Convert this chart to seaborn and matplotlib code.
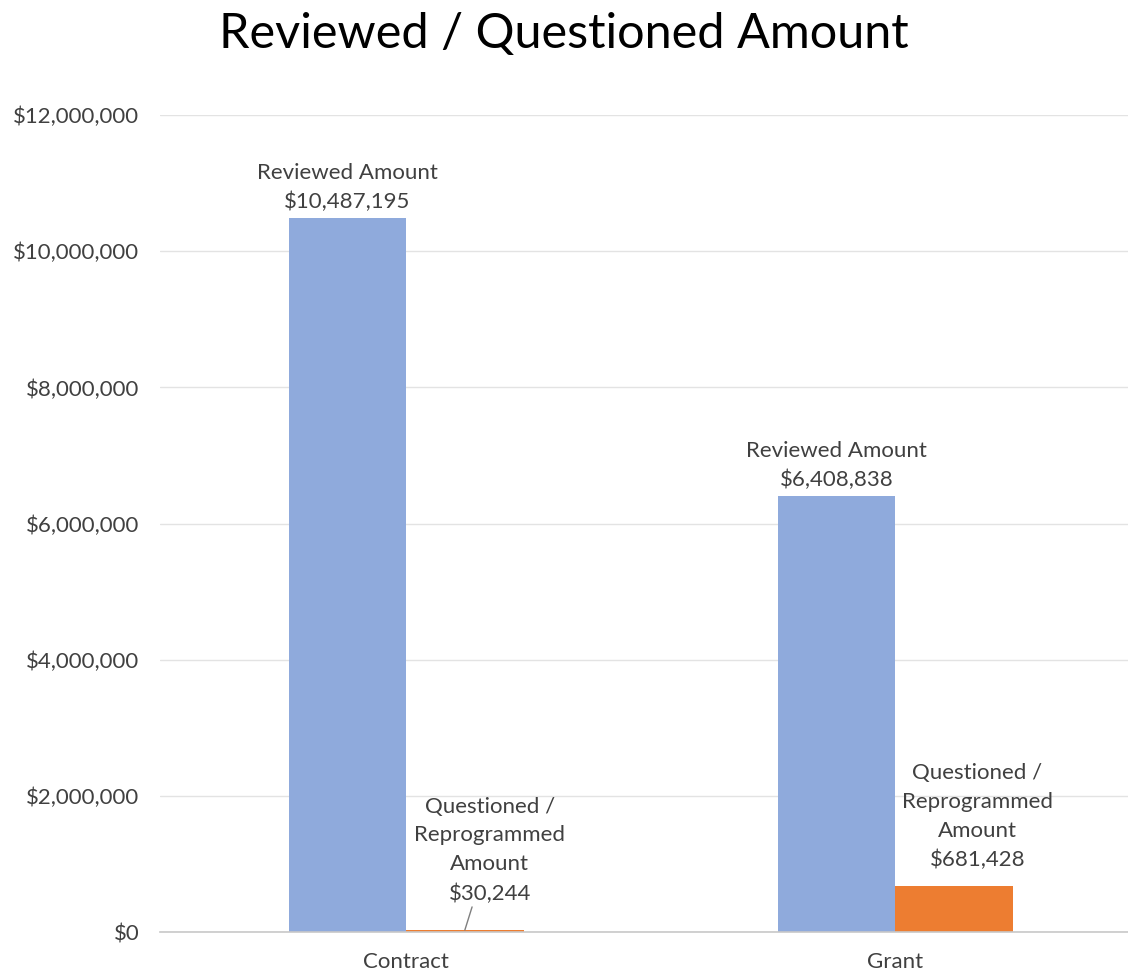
import matplotlib
matplotlib.use("Agg")
import matplotlib.pyplot as plt
import seaborn as sns
import pandas as pd

# values
categories = ['Contract', 'Grant']
series = ['Reviewed Amount', 'Questioned / Reprogrammed Amount']
reviewed = [10487195, 6408838]
questioned = [30244, 681428]
yticks = [0, 2000000, 4000000, 6000000, 8000000, 10000000, 12000000]

df = pd.DataFrame({
    'category': categories * 2,
    'series': [series[0]] * 2 + [series[1]] * 2,
    'amount': reviewed + questioned,
})

sns.set_theme(style='white')
plt.rcParams['font.family'] = ['Lato', 'DejaVu Sans']

fig = plt.figure(figsize=(11.28, 9.75), dpi=100)
ax = fig.add_axes([0.142, 0.044, 0.858, 0.838])

sns.barplot(data=df, x='category', y='amount', hue='series', order=categories,
            hue_order=series, palette=['#8FAADC', '#ED7D31'], width=0.48,
            saturation=1, ax=ax, legend=False, linewidth=0)

ax.set_ylim(0, 12000000)
ax.set_xlim(-0.503, 1.476)
ax.set_yticks(yticks)
ax.set_yticklabels(['${:,}'.format(v) for v in yticks], fontsize=16, color='#404040')
ax.tick_params(axis='x', labelsize=16, labelcolor='#404040', pad=14, length=0)
ax.tick_params(axis='y', pad=15, length=0)
ax.set_xlabel('')
ax.set_ylabel('')
ax.yaxis.grid(True, color='#e3e3e3', linewidth=1)
ax.set_axisbelow(True)
for s in ['top', 'right', 'left']:
    ax.spines[s].set_visible(False)
ax.spines['bottom'].set_color('#c8c8c8')
ax.spines['bottom'].set_linewidth(1.2)

fig.text(0.5, 0.965, 'Reviewed / Questioned Amount', ha='center', va='center',
         fontsize=35, color='black')

lab = dict(ha='center', va='bottom', fontsize=16, color='#404040', linespacing=1.55)

# reviewed labels
for bar, v in zip(ax.containers[0], reviewed):
    cx = bar.get_x() + bar.get_width() / 2
    ax.annotate('Reviewed Amount\n${:,}'.format(v), xy=(cx, v),
                xytext=(0, 4), textcoords='offset points', **lab)

# questioned labels
q_bars = list(ax.containers[1])
b = q_bars[0]
cx = b.get_x() + b.get_width() / 2
ax.annotate('Questioned /\nReprogrammed\nAmount\n${:,}'.format(questioned[0]),
            xy=(cx, questioned[0]), xytext=(18, 19), textcoords='offset points',
            arrowprops=dict(arrowstyle='-', color='#7f7f7f', lw=1,
                            shrinkA=0, shrinkB=0), **lab)
b = q_bars[1]
cx = b.get_x() + b.get_width() / 2
ax.annotate('Questioned /\nReprogrammed\nAmount\n${:,}'.format(questioned[1]),
            xy=(cx, questioned[1]), xytext=(17, 11), textcoords='offset points', **lab)

fig.savefig('out.png', dpi=100)
